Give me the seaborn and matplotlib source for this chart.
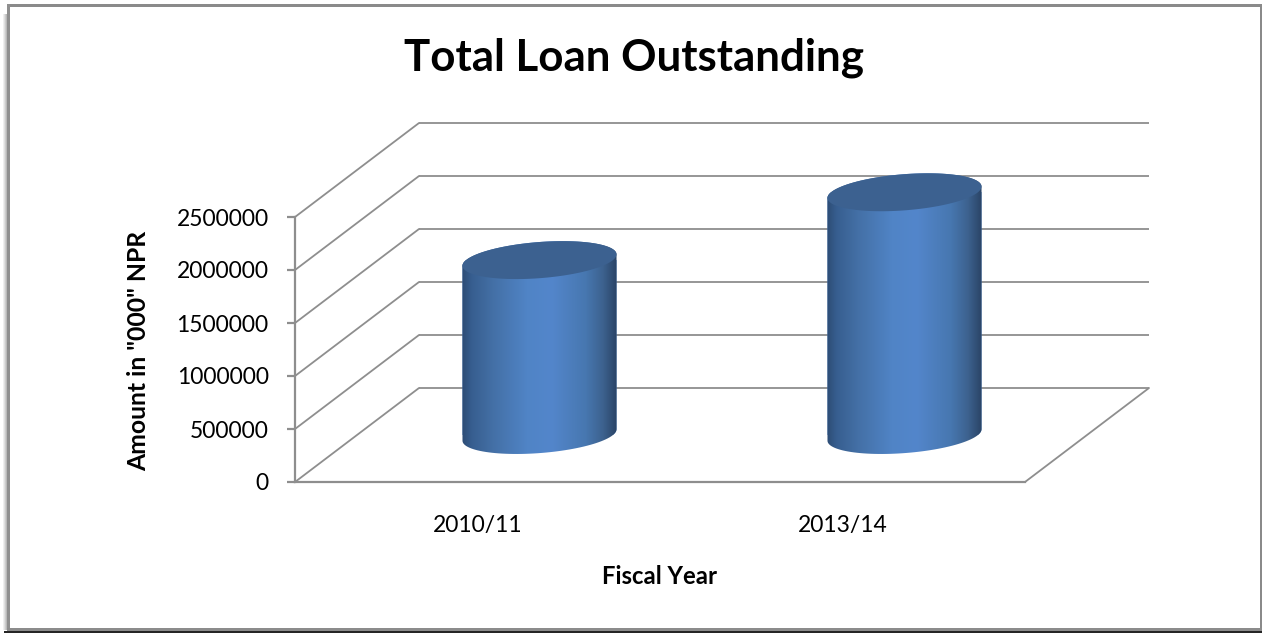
import numpy as np
import pandas as pd
import matplotlib
matplotlib.use("Agg")
import matplotlib.pyplot as plt
from matplotlib.colors import LinearSegmentedColormap
from matplotlib.patches import PathPatch, Rectangle
from matplotlib.path import Path
from matplotlib.transforms import Affine2D
import seaborn as sns

# Chart data
fiscal_years = ["2010/11", "2013/14"]
loan_outstanding = [1650000, 2290000]
y_ticks = [0, 500000, 1000000, 1500000, 2000000, 2500000]

title_text = "Total Loan Outstanding"
x_label = "Fiscal Year"
y_label = 'Amount in "000" NPR'

W, H = 1262, 633
GRID = "#8e8e8e"
GRID_LW = 1.3
DEPTH = (124, 94)          # pseudo-3D depth of the plot box, in pixels
BAR_WIDTH = 0.422
TILT, SQUASH = 5.7, 18.1   # shape of the elliptical cylinder caps, in pixels

sns.set_theme(style="white")
plt.rcParams["font.family"] = ["Lato", "DejaVu Sans"]

fig = plt.figure(figsize=(W / 100, H / 100), dpi=100, facecolor="white")
ax = fig.add_axes([295 / W, 1 - 482 / H, 730 / W, 265 / H])
ax.patch.set_alpha(0)

df = pd.DataFrame({"year": fiscal_years, "amount": loan_outstanding})
sns.barplot(data=df, x="year", y="amount", ax=ax, color="#4f81bd",
            width=BAR_WIDTH, saturation=1, zorder=3)
ax.set_xlim(-0.5, 1.5)
ax.set_ylim(0, 2500000)
fig.canvas.draw()

# Depth transforms: back wall and mid-depth plane for the cylinders
back = ax.transData + Affine2D().translate(*DEPTH)
mid = ax.transData + Affine2D().translate(DEPTH[0] / 2, DEPTH[1] / 2)

# Walls and floor
for v in y_ticks:
    ax.plot([-0.5, 1.5], [v, v], transform=back, color=GRID, lw=GRID_LW,
            clip_on=False, zorder=1, solid_capstyle="butt")
    x0, y0 = ax.transData.transform((-0.5, v))
    ax.plot([x0, x0 + DEPTH[0]], [y0, y0 + DEPTH[1]],
            transform=Affine2D(), color=GRID, lw=GRID_LW, clip_on=False, zorder=1)
xr, yr = ax.transData.transform((1.5, 0))
ax.plot([xr, xr + DEPTH[0]], [yr, yr + DEPTH[1]],
        transform=Affine2D(), color=GRID, lw=GRID_LW, clip_on=False, zorder=1)

# Cylinder shading, dark at both edges with the highlight just past centre
shade = LinearSegmentedColormap.from_list("cyl", [
    (0.00, "#2d4c75"), (0.06, "#375e8f"), (0.20, "#4470a6"), (0.42, "#5084c6"),
    (0.58, "#5386cb"), (0.80, "#4777b0"), (0.91, "#3d628f"), (1.00, "#2a4466")])
ramp = np.linspace(0, 1, 256)[None, :]

px_y = 2500000 / 265
t = np.linspace(0, np.pi, 60)

for bar in ax.patches:
    left, hw = bar.get_x(), bar.get_width() / 2
    cx = left + hw
    top = bar.get_height()

    def cap(angle, cy):
        return np.column_stack([
            cx + hw * np.cos(angle),
            cy + (TILT * np.cos(angle) + SQUASH * np.sin(angle)) * px_y])

    body = Path(np.vstack([cap(t + np.pi, 0), cap(t, top)]), closed=False)
    bar.set_transform(mid)
    bar.set_clip_path(body, transform=mid)
    bar.set_clip_box(None)
    bar.set_edgecolor("none")
    im = ax.imshow(ramp, cmap=shade, aspect="auto", zorder=4, transform=mid,
                   extent=(left, left + 2 * hw, -40 * px_y, top + 40 * px_y),
                   interpolation="bilinear")
    # images fall back to the axes box unless given a wider clip box
    im.set_clip_box(fig.bbox)
    im.set_clip_path(body, transform=mid)
    ax.add_patch(PathPatch(Path(cap(np.linspace(0, 2 * np.pi, 120), top)),
                           facecolor="#3c6190", edgecolor="none",
                           transform=mid, zorder=5, clip_on=False))

ax.set_xlim(-0.5, 1.5)
ax.set_ylim(0, 2500000)

# Axes
sns.despine(ax=ax)
for side in ("left", "bottom"):
    ax.spines[side].set_color(GRID)
    ax.spines[side].set_linewidth(1.6)
ax.set_yticks(y_ticks)
ax.set_yticklabels([str(v) for v in y_ticks])
ax.tick_params(axis="y", length=6, width=1.6, color=GRID, pad=13,
               labelsize=16.5, labelcolor="black", left=True)
ax.tick_params(axis="x", length=0, pad=24, labelsize=16.5, labelcolor="black")
ax.set_xlabel("")
ax.set_ylabel("")

# Titles as figure text
fig.text(634.5 / W, 1 - 58 / H, title_text, ha="center", va="center",
         fontsize=31.6, fontweight="bold", color="black")
fig.text(659 / W, 1 - 577 / H, x_label, ha="center", va="center",
         fontsize=17.2, fontweight="bold", color="black")
fig.text(139 / W, 1 - 351 / H, y_label, ha="center", va="center",
         rotation=90, fontsize=17.8, fontweight="bold", color="black")


# Outer frame with its soft shadow
def frame_rect(x0, y0, x1, y1, color, alpha=1.0):
    fig.add_artist(Rectangle((x0 / W, 1 - y1 / H), (x1 - x0) / W, (y1 - y0) / H,
                             transform=fig.transFigure, facecolor=color,
                             edgecolor="none", alpha=alpha, zorder=10))


for i, a in enumerate((0.12, 0.25, 0.4, 0.55)):
    frame_rect(3 + i, 14, 4 + i, 630, "#808080", a)
frame_rect(7, 4, 1262, 6.5, "#8a8a8a")
frame_rect(7, 4, 9.5, 630, "#8f8f8f")
frame_rect(1259.5, 4, 1262, 630, "#8a8a8a")
frame_rect(7, 627.5, 1262, 630.5, "#8c8c8c")
frame_rect(4, 630.5, 1262, 633, "#252525")

fig.savefig("out.png", dpi=100, facecolor="white")
